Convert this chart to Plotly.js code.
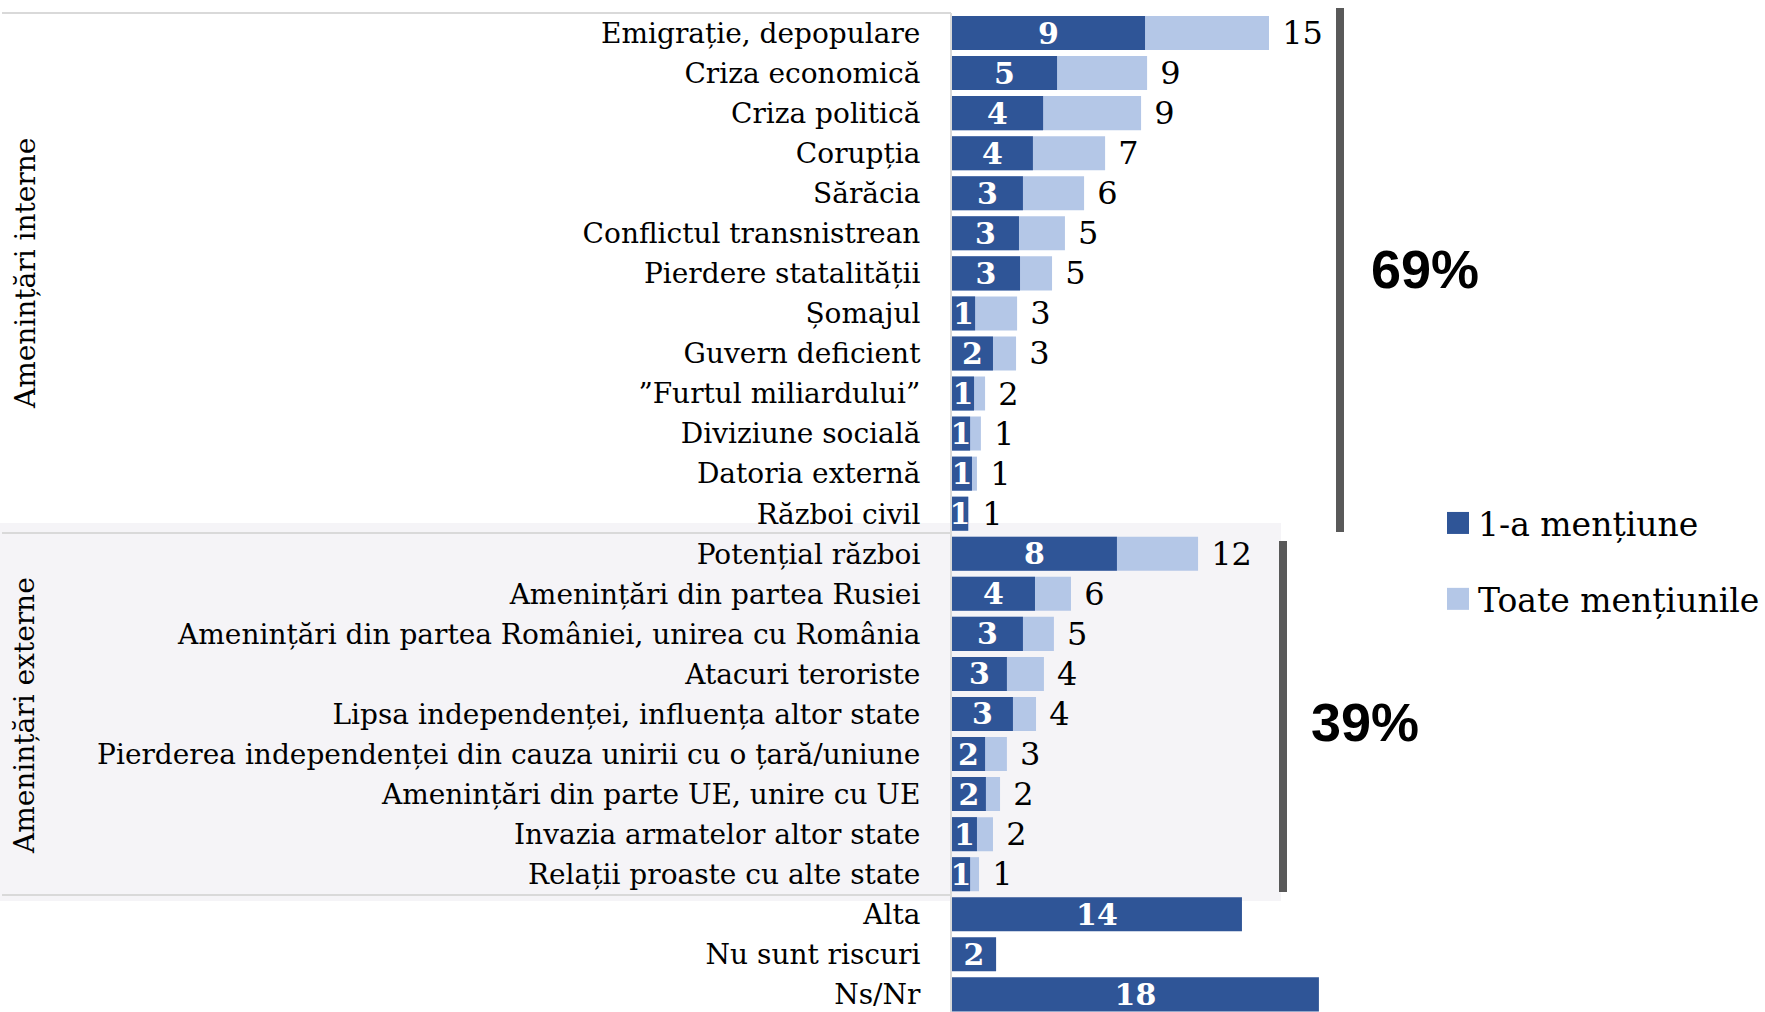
<!DOCTYPE html>
<html>
<head>
<meta charset="utf-8">
<script src="https://cdn.plot.ly/plotly-3.0.1.min.js"></script>
<style>html,body{margin:0;padding:0;background:#fff;}#chart{width:1765px;height:1012px;}</style>
</head>
<body>
<div id="chart"></div>
<script>
// ---- data (labels shown rounded) ----
const categories = [
  "Emigrație, depopulare",
  "Criza economică",
  "Criza politică",
  "Corupția",
  "Sărăcia",
  "Conflictul transnistrean",
  "Pierdere statalității",
  "Șomajul",
  "Guvern deficient",
  "”Furtul miliardului”",
  "Diviziune socială",
  "Datoria externă",
  "Război civil",
  "Potențial război",
  "Amenințări din partea Rusiei",
  "Amenințări din partea României, unirea cu România",
  "Atacuri teroriste",
  "Lipsa independenței, influența altor state",
  "Pierderea independenței din cauza unirii cu o țară/uniune",
  "Amenințări din parte UE, unire cu UE",
  "Invazia armatelor altor state",
  "Relații proaste cu alte state",
  "Alta",
  "Nu sunt riscuri",
  "Ns/Nr"
];
const firstMention = [9.28, 5.05, 4.38, 3.89, 3.41, 3.22, 3.27, 1.11, 1.97, 1.06, 0.87, 0.96, 0.77,
                      7.93, 3.99, 3.41, 2.64, 2.93, 1.59, 1.63, 1.2, 0.87,
                      13.94, 2.12, 17.64];
const allMentions = [15.24, 9.38, 9.09, 7.36, 6.35, 5.43, 4.81, 3.13, 3.08, 1.59, 1.39, 1.2, 0.82,
                     11.83, 5.72, 4.9, 4.42, 4.04, 2.64, 2.31, 1.97, 1.3,
                     null, null, null];
const seriesNames = ["1-a mențiune", "Toate mențiunile"];
const groupLabels = ["Amenințări interne", "Amenințări externe"];
const groupShares = ["69%", "39%"];

// ---- layout geometry ----
const WIDTH = 1765, HEIGHT = 1012;
const ML = 952, MR = 0, MT = 13, MB = 0;
const PW = WIDTH - ML - MR, PH = HEIGHT - MT - MB;
const xp = px => (px - ML) / PW;
const yp = py => (HEIGHT - MB - py) / PH;

const DARK = '#2f5597', LIGHT = '#b4c7e7';
const SERIF = 'DejaVu Serif, Liberation Serif, serif';
const SANS = 'Liberation Sans, Arial, sans-serif';

const traces = [
  {
    type: 'bar', orientation: 'h', name: seriesNames[1],
    y: categories, x: allMentions,
    marker: {color: LIGHT},
    texttemplate: '\u00a0%{x:.0f}', textposition: 'outside', cliponaxis: false,
    textangle: 0, constraintext: 'none',
    outsidetextfont: {family: SERIF, size: 32, color: '#000'},
    legendgroup: 'b', legendrank: 2, hoverinfo: 'skip'
  },
  {
    type: 'bar', orientation: 'h', name: seriesNames[0],
    y: categories, x: firstMention,
    marker: {color: DARK},
    texttemplate: '%{x:.0f}', textposition: 'inside', insidetextanchor: 'middle',
    textangle: 0, constraintext: 'none',
    insidetextfont: {family: SERIF, size: 30, color: '#fff', weight: 'bold'},
    legendgroup: 'a', legendrank: 1, hoverinfo: 'skip'
  }
];

const lineGrey = {color: '#d9d9d9', width: 2};
const bracket = {color: '#595959', width: 8};
const shapes = [
  {type: 'rect', xref: 'paper', yref: 'paper', x0: xp(0), x1: xp(1281), y0: yp(901), y1: yp(523),
   fillcolor: '#f5f4f7', line: {width: 0}, layer: 'below'},
  {type: 'line', xref: 'paper', yref: 'paper', x0: xp(2), x1: xp(951), y0: yp(13), y1: yp(13), line: lineGrey},
  {type: 'line', xref: 'paper', yref: 'paper', x0: xp(2), x1: xp(951), y0: yp(533), y1: yp(533), line: lineGrey},
  {type: 'line', xref: 'paper', yref: 'paper', x0: xp(2), x1: xp(951), y0: yp(895), y1: yp(895), line: lineGrey},
  {type: 'line', xref: 'paper', yref: 'paper', x0: xp(1340), x1: xp(1340), y0: yp(8), y1: yp(532), line: bracket},
  {type: 'line', xref: 'paper', yref: 'paper', x0: xp(1283), x1: xp(1283), y0: yp(541), y1: yp(892), line: bracket}
];

const annotations = [
  {xref: 'paper', yref: 'paper', x: xp(25), y: yp(273), text: groupLabels[0], textangle: -90,
   xanchor: 'center', yanchor: 'middle',
   showarrow: false, font: {family: SERIF, size: 28, color: '#000'}},
  {xref: 'paper', yref: 'paper', x: xp(25), y: yp(715), text: groupLabels[1], textangle: -90,
   xanchor: 'center', yanchor: 'middle',
   showarrow: false, font: {family: SERIF, size: 28, color: '#000'}},
  {xref: 'paper', yref: 'paper', x: xp(1425), y: yp(269), text: groupShares[0], showarrow: false,
   xanchor: 'center', yanchor: 'middle',
   font: {family: SANS, size: 54, color: '#000', weight: 'bold'}},
  {xref: 'paper', yref: 'paper', x: xp(1365), y: yp(722), text: groupShares[1], showarrow: false,
   xanchor: 'center', yanchor: 'middle',
   font: {family: SANS, size: 54, color: '#000', weight: 'bold'}}
];

const layout = {
  width: WIDTH, height: HEIGHT,
  margin: {l: ML, r: MR, t: MT, b: MB, pad: 0, autoexpand: false},
  paper_bgcolor: '#fff', plot_bgcolor: 'rgba(0,0,0,0)',
  barmode: 'overlay', bargap: 0.15,
  showlegend: true,
  legend: {
    xref: 'paper', yref: 'paper',
    x: xp(1438), y: yp(495), xanchor: 'left', yanchor: 'top',
    traceorder: 'grouped', tracegroupgap: 30,
    font: {family: SERIF, size: 33, color: '#000'},
    bgcolor: 'rgba(0,0,0,0)', borderwidth: 0
  },
  xaxis: {range: [0, PW / 20.8], visible: false, showgrid: false, zeroline: false, fixedrange: true},
  yaxis: {
    type: 'category', categoryorder: 'array', categoryarray: categories,
    range: [24.44, -0.5], showgrid: false, zeroline: false,
    showline: true, linecolor: '#d9d9d9', linewidth: 2,
    ticks: '', ticklabelstandoff: 24,
    tickfont: {family: SERIF, size: 28, color: '#000'},
    automargin: false, fixedrange: true
  },
  shapes: shapes,
  annotations: annotations
};

Plotly.newPlot('chart', traces, layout, {displayModeBar: false, staticPlot: true}).then(function (gd) {
  // enlarge the legend colour squares to match the reference's 22px swatches
  gd.querySelectorAll('.legend .legendpoints path').forEach(function (p) {
    p.setAttribute('d', 'M11,11H-11V-11H11Z');
  });
});
</script>
</body>
</html>
